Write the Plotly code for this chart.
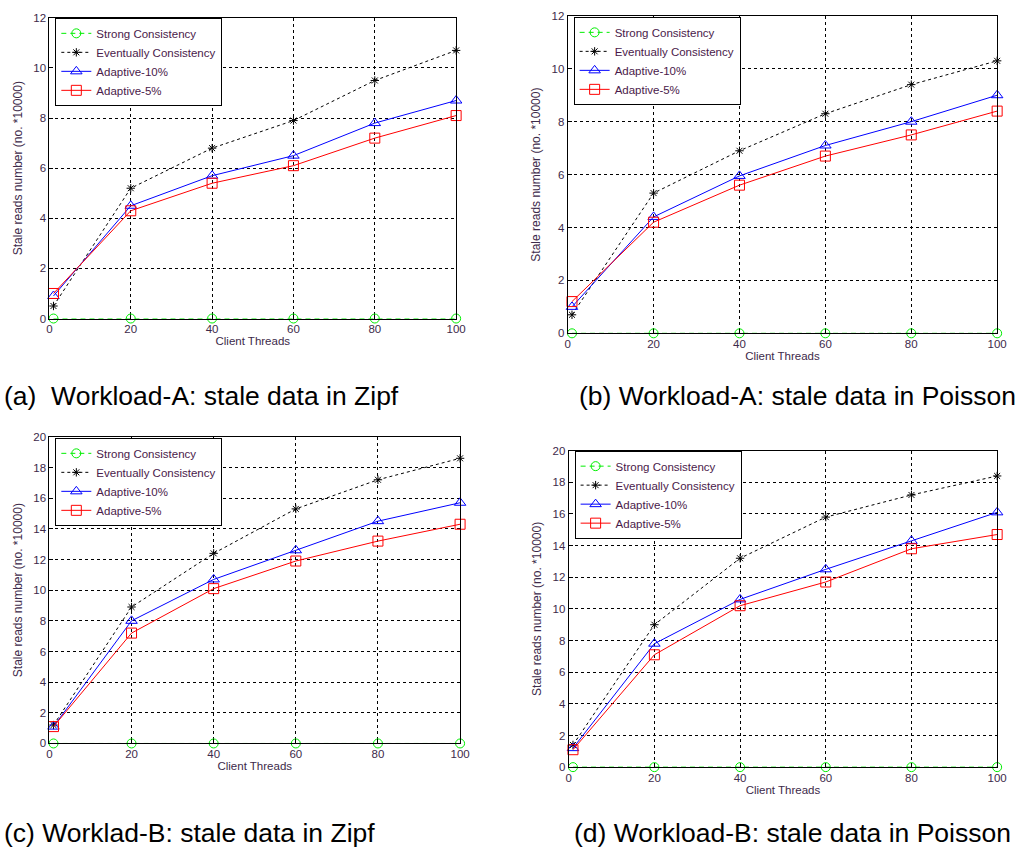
import plotly.graph_objects as go

threads = [1, 20, 40, 60, 80, 100]
series_names = ["Strong Consistency", "Eventually Consistency", "Adaptive-10%", "Adaptive-5%"]

# Panel (a) Workload-A Zipf
a_strong = [0, 0, 0, 0, 0, 0]
a_eventual = [0.5, 5.2, 6.8, 7.9, 9.5, 10.7]
a_adapt10 = [0.9, 4.5, 5.7, 6.5, 7.8, 8.7]
a_adapt5 = [1.0, 4.3, 5.4, 6.1, 7.2, 8.1]

# Panel (b) Workload-A Poisson
b_strong = [0, 0, 0, 0, 0, 0]
b_eventual = [0.7, 5.3, 6.9, 8.3, 9.4, 10.3]
b_adapt10 = [1.0, 4.4, 5.95, 7.1, 8.0, 9.0]
b_adapt5 = [1.2, 4.2, 5.6, 6.7, 7.5, 8.4]

# Panel (c) Workload-B Zipf
c_strong = [0, 0, 0, 0, 0, 0]
c_eventual = [1.2, 8.9, 12.4, 15.3, 17.2, 18.6]
c_adapt10 = [1.1, 8.0, 10.7, 12.6, 14.5, 15.7]
c_adapt5 = [1.1, 7.2, 10.1, 11.9, 13.2, 14.3]

# Panel (d) Workload-B Poisson
d_strong = [0, 0, 0, 0, 0, 0]
d_eventual = [1.4, 9.0, 13.2, 15.8, 17.2, 18.4]
d_adapt10 = [1.2, 7.8, 10.6, 12.5, 14.3, 16.1]
d_adapt5 = [1.1, 7.1, 10.2, 11.7, 13.8, 14.7]

captions = ["(a)  Workload-A: stale data in Zipf", "(b) Workload-A: stale data in Poisson",
            "(c) Worklad-B: stale data in Zipf", "(d) Workload-B: stale data in Poisson"]
y_max = [12, 12, 20, 20]
x_title = "Client Threads"
y_title = "Stale reads number (no. *10000)"

W, H = 1019, 852
# pixel boxes: left, right, top, bottom
boxes = [(47, 459, 12, 317), (572, 1007, 10, 332), (47, 463, 437, 748), (573, 1007, 451, 772)]
legend_pos = [(53, 12), (578, 11), (53, 438), (579, 451)]
caption_pos = [(0, 396), (582, 396), (0, 839), (577, 839)]

panels = [
    (a_strong, a_eventual, a_adapt10, a_adapt5),
    (b_strong, b_eventual, b_adapt10, b_adapt5),
    (c_strong, c_eventual, c_adapt10, c_adapt5),
    (d_strong, d_eventual, d_adapt10, d_adapt5),
]

styles = [
    dict(color="#00ee00", dash="5px,4px", symbol="circle-open", size=9),
    dict(color="black", dash="3px,3px", symbol="asterisk-open", size=7),
    dict(color="#0000ff", dash="solid", symbol="triangle-up-open", size=10),
    dict(color="#ff0000", dash="solid", symbol="square-open", size=10),
]

FONT = "Arial, Liberation Sans, sans-serif"
TXT = "#3d2a4a"

fig = go.Figure()
layout = dict(width=W, height=H, margin=dict(l=0, r=0, t=0, b=0),
              plot_bgcolor="white", paper_bgcolor="white", annotations=[])

for i, (data, box) in enumerate(zip(panels, boxes)):
    k = "" if i == 0 else str(i + 1)
    leg = "legend" if i == 0 else f"legend{i+1}"
    for name, ys, st in zip(series_names, data, styles):
        fig.add_trace(go.Scatter(
            x=threads, y=ys, name=name, mode="lines+markers",
            xaxis="x" + k, yaxis="y" + k, legend=leg, cliponaxis=False,
            line=dict(color=st["color"], width=1, dash=st["dash"]),
            marker=dict(symbol=st["symbol"], size=st["size"], color=st["color"],
                        line=dict(color=st["color"], width=1)),
        ))
    l, r, t, b = box
    axcommon = dict(showgrid=True, gridcolor="black", gridwidth=1, griddash="3px,3px",
                    showline=True, linecolor="black", linewidth=1, mirror=True,
                    ticks="inside", ticklen=4, tickcolor="black", zeroline=False,
                    tickfont=dict(family=FONT, size=11.5, color=TXT))
    layout["xaxis" + k] = dict(axcommon, domain=[l / W, r / W], range=[0, 100], dtick=20, tick0=0,
                               anchor="y" + k,
                               title=dict(text=x_title, font=dict(family=FONT, size=11.5, color=TXT), standoff=2))
    layout["yaxis" + k] = dict(axcommon, domain=[1 - b / H, 1 - t / H], range=[0, y_max[i]], dtick=2, tick0=0,
                               anchor="x" + k,
                               title=dict(text=y_title, font=dict(family=FONT, size=12, color=TXT), standoff=8))
    lx, ly = legend_pos[i]
    layout[leg] = dict(x=lx / W, y=1 - ly / H, xanchor="left", yanchor="top",
                       bgcolor="white", bordercolor="black", borderwidth=1,
                       font=dict(family=FONT, size=11.5, color="#4a1a4a"),
                       tracegroupgap=0, itemwidth=30)
    cx, cy = caption_pos[i]
    layout["annotations"].append(dict(text=captions[i], x=cx / W, y=1 - cy / H, xref="paper", yref="paper",
                                      xanchor="left", yanchor="middle", showarrow=False, borderpad=0,
                                      font=dict(family=FONT, size=26.5, color="black")))

fig.update_layout(**layout)
fig.write_html("out.html", config={"displayModeBar": False},
               post_script="document.body.style.margin='0px';document.body.style.overflow='hidden';")
